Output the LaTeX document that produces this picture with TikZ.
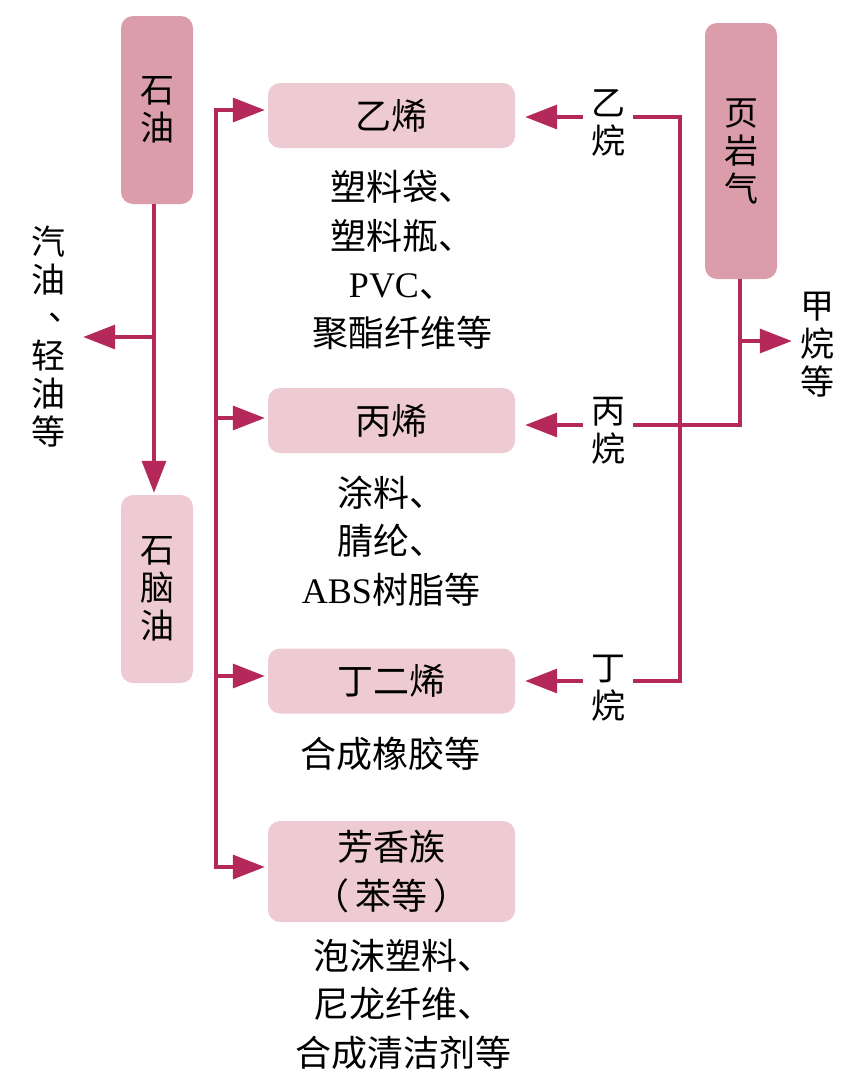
\documentclass[tikz,border=0pt]{standalone}
\usepackage{fontspec}
\setmainfont{Noto Sans CJK SC}
\newfontfamily\lat{Liberation Serif}
\usetikzlibrary{arrows.meta}
\definecolor{linec}{HTML}{B5295A}
\definecolor{darkbox}{HTML}{DC9DAA}
\definecolor{lightbox}{HTML}{EECBD2}
\newcommand{\vdun}{\makebox[1em][l]{\hspace{0.5em}\raisebox{0.3em}{、}}}
\begin{document}
\begin{tikzpicture}[x=1pt,y=-1pt,
  txt/.style={font=\fontsize{36}{48.5}\selectfont, align=center, inner sep=0pt},
  vtxt/.style={font=\fontsize{34}{38}\selectfont, align=center, inner sep=0pt},
  lab/.style={vtxt, inner xsep=8pt},
  dbox/.style={fill=darkbox, rounded corners=12pt},
  lbox/.style={fill=lightbox, rounded corners=12pt},
  conn/.style={draw=linec, line width=3.3pt},
  tip/.style={-{Triangle[length=32pt,width=24pt]}},
  arr/.style={conn, tip}]
\useasboundingbox (0,0) rectangle (861,1085);

% boxes
\node[dbox, vtxt, minimum width=72pt, minimum height=188pt] (shiyou) at (157,110) {石\\油};
\node[dbox, vtxt, minimum width=72pt, minimum height=256pt] (yeyanqi) at (741,151) {页\\岩\\气};
\node[lbox, vtxt, minimum width=72pt, minimum height=188pt] (naphtha) at (157,589) {石\\脑\\油};
\node[lbox, txt, minimum width=247pt, minimum height=65pt] (ethene) at (391.5,115.5) {乙烯};
\node[lbox, txt, minimum width=247pt, minimum height=65pt] (propene) at (391.5,420.5) {丙烯};
\node[lbox, txt, minimum width=247pt, minimum height=65pt] (butadiene) at (391.5,681) {丁二烯};
\node[lbox, txt, minimum width=247pt, minimum height=101pt] (aromatic) at (391.5,871.5) {芳香族\\（\,苯等\,）};

% product texts
\node[txt] (p1) at (402,260) {塑料袋、\\塑料瓶、\\{\lat PVC}、\\聚酯纤维等};
\node[txt] (p2) at (391,541) {涂料、\\腈纶、\\{\lat ABS}树脂等};
\node[txt] (p3) at (390,754) {合成橡胶等};
\node[txt] (p4) at (403,1004) {泡沫塑料、\\尼龙纤维、\\合成清洁剂等};

% side labels
\node[lab] (ethane) at (608,123) {乙\\烷};
\node[lab] (propane) at (608,431) {丙\\烷};
\node[lab] (butane) at (608,688) {丁\\烷};
\node[lab] (methane) at (817,345) {甲\\烷\\等};
\node[lab] (gasoline) at (48,337) {汽\\油\\\vdun\\轻\\油\\等};

% petroleum connectors
\coordinate (sj) at (154,337);
\draw[arr, shorten >=2pt] (shiyou.south -| sj) -- (naphtha.north -| sj);
\draw[arr, shorten >=10pt] (sj) -- (gasoline.east |- sj);

% left distribution line
\coordinate (Ltop) at (216,110);
\coordinate (Lbot) at (216,867);
\draw[conn, {Triangle[length=32pt,width=24pt]}-{Triangle[length=32pt,width=24pt]}, shorten <=3pt, shorten >=3pt]
  (Ltop -| ethene.west) -- (Ltop) -- (Lbot) -- (Lbot -| aromatic.west);
\coordinate (Lp) at (216,418);
\coordinate (Lb) at (216,676);
\draw[arr, shorten >=3pt] (Lp) -- (Lp -| propene.west);
\draw[arr, shorten >=3pt] (Lb) -- (Lb -| butadiene.west);

% shale gas connectors
\coordinate (Rtop) at (680,117);
\coordinate (Rbot) at (680,681);
\draw[conn] (Rtop -| ethane.east) -- (Rtop) -- (Rbot) -- (Rbot -| butane.east);
\coordinate (Pj) at (740,425);
\coordinate (Mj) at (740,341);
\draw[conn] (yeyanqi.south -| Pj) -- (Pj) -- (Pj -| propane.east);
\draw[arr] (Mj) -- (Mj -| methane.west);
\draw[arr, shorten >=10pt] (Rtop -| ethane.west) -- (Rtop -| ethene.east);
\draw[arr, shorten >=10pt] (Pj -| propane.west) -- (Pj -| propene.east);
\draw[arr, shorten >=10pt] (Rbot -| butane.west) -- (Rbot -| butadiene.east);
\end{tikzpicture}
\end{document}
